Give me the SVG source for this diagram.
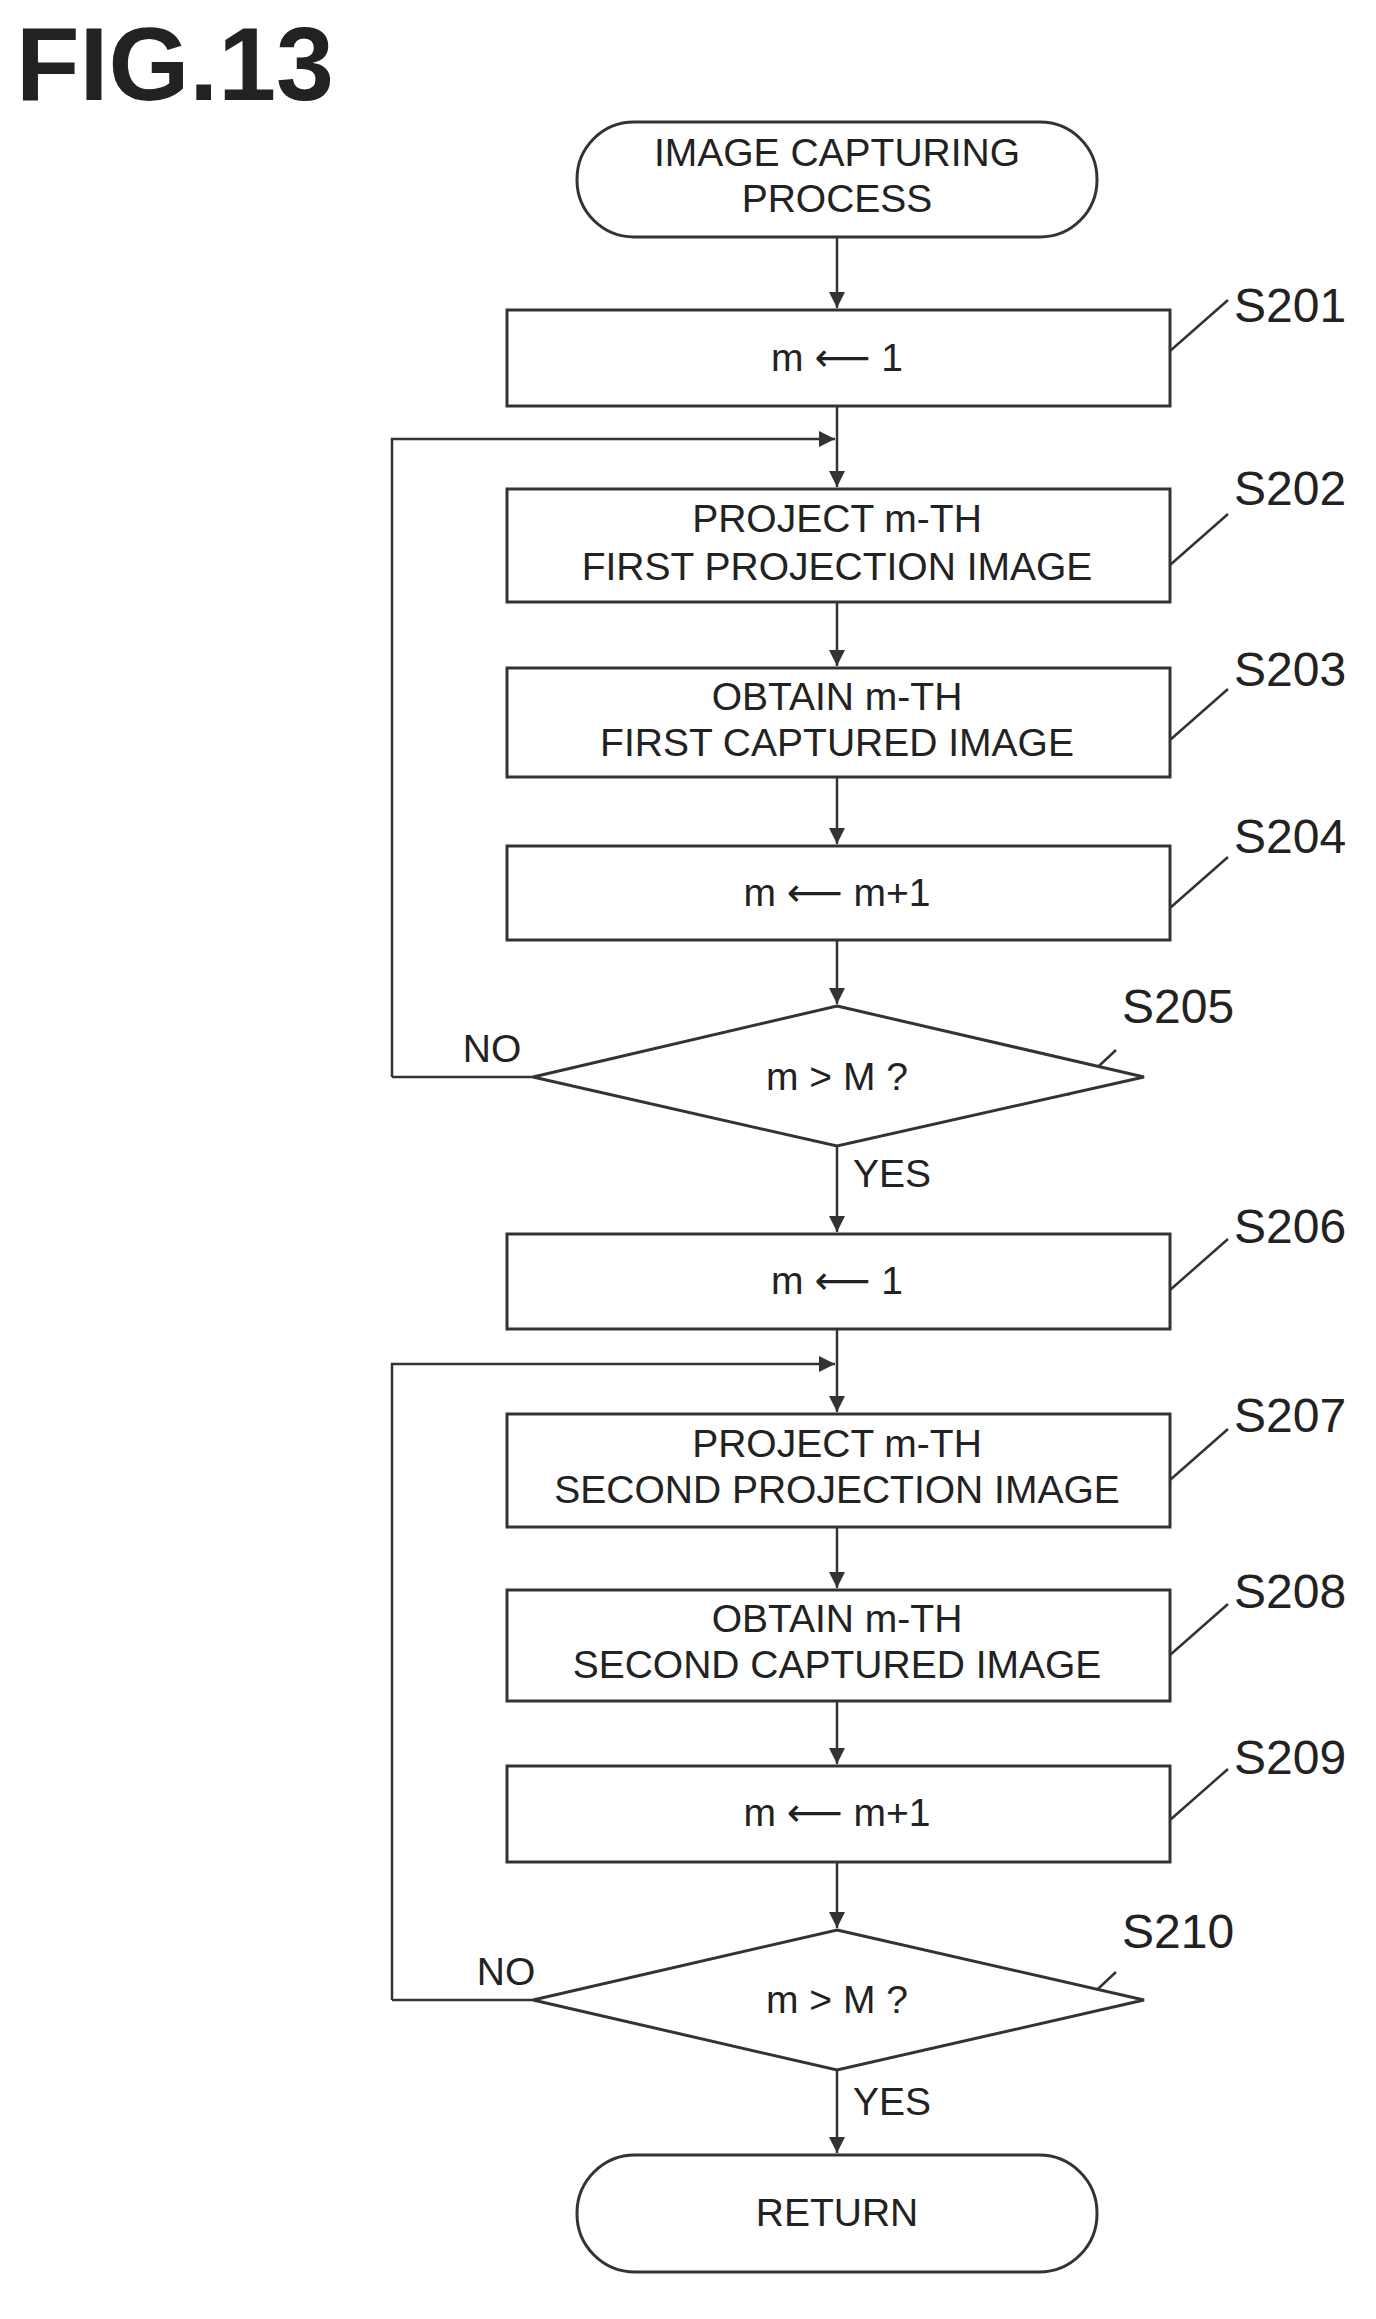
<svg xmlns="http://www.w3.org/2000/svg" width="1376" height="2319" viewBox="0 0 1376 2319">
<style>
.s{fill:#fff;stroke:#333;stroke-width:3}
.l{fill:none;stroke:#333;stroke-width:2.5}
.t{font-family:"Liberation Sans",Arial,sans-serif;font-size:39px;fill:#222;text-anchor:middle}
.ar{font-family:"DejaVu Sans",sans-serif}
.lb{font-family:"Liberation Sans",Arial,sans-serif;font-size:48px;fill:#222}
</style>
<defs><marker id="a" markerWidth="18" markerHeight="16" refX="16" refY="8" orient="auto" markerUnits="userSpaceOnUse"><path d="M0,0 L16,8 L0,16 Z" fill="#333"/></marker></defs>
<text x="16" y="100" style="font-family:'Liberation Sans',Arial,sans-serif;font-size:104px;font-weight:bold;fill:#222">FIG.13</text>
<g transform="translate(6,0)">
<g id="connectors">
<path class="l" d="M831,237 V308" marker-end="url(#a)"/>
<path class="l" d="M831,406 V487" marker-end="url(#a)"/>
<path class="l" d="M386,1077 H527 M386,1077 V439 H829" marker-end="url(#a)"/>
<path class="l" d="M831,602 V666" marker-end="url(#a)"/>
<path class="l" d="M831,777 V844" marker-end="url(#a)"/>
<path class="l" d="M831,940 V1004" marker-end="url(#a)"/>
<path class="l" d="M831,1146 V1232" marker-end="url(#a)"/>
<path class="l" d="M831,1329 V1412" marker-end="url(#a)"/>
<path class="l" d="M386,2000 H527 M386,2000 V1364 H829" marker-end="url(#a)"/>
<path class="l" d="M831,1527 V1588" marker-end="url(#a)"/>
<path class="l" d="M831,1701 V1764" marker-end="url(#a)"/>
<path class="l" d="M831,1862 V1928" marker-end="url(#a)"/>
<path class="l" d="M831,2070 V2153" marker-end="url(#a)"/>
<path class="l" d="M1164,351 L1222,300 M1164,565 L1222,514 M1164,740 L1222,689 M1164,908 L1222,857 M1062,1095 L1110,1050 M1164,1290 L1222,1239 M1164,1480 L1222,1429 M1164,1655 L1222,1604 M1164,1820 L1222,1769 M1062,2017 L1110,1972"/>
<text class="t" x="486" y="1062">NO</text>
<text class="t" x="886" y="1187">YES</text>
<text class="t" x="500" y="1985">NO</text>
<text class="t" x="886" y="2115">YES</text>
</g>
<g id="start"><rect class="s" x="571" y="122" width="520" height="115" rx="57"/><text class="t" x="831" y="166">IMAGE CAPTURING</text><text class="t" x="831" y="212">PROCESS</text></g>
<g id="S201"><rect class="s" x="501" y="310" width="663" height="96"/><text class="t" x="831" y="371">m <tspan class="ar">⟵</tspan> 1</text><text class="lb" x="1228" y="322">S201</text></g>
<g id="S202"><rect class="s" x="501" y="489" width="663" height="113"/><text class="t" x="831" y="532">PROJECT m-TH</text><text class="t" x="831" y="580">FIRST PROJECTION IMAGE</text><text class="lb" x="1228" y="505">S202</text></g>
<g id="S203"><rect class="s" x="501" y="668" width="663" height="109"/><text class="t" x="831" y="710">OBTAIN m-TH</text><text class="t" x="831" y="756">FIRST CAPTURED IMAGE</text><text class="lb" x="1228" y="686">S203</text></g>
<g id="S204"><rect class="s" x="501" y="846" width="663" height="94"/><text class="t" x="831" y="906">m <tspan class="ar">⟵</tspan> m+1</text><text class="lb" x="1228" y="853">S204</text></g>
<g id="S205"><polygon class="s" points="831,1006 1138,1077 831,1146 527,1077"/><text class="t" x="831" y="1090">m &gt; M ?</text><text class="lb" x="1116" y="1023">S205</text></g>
<g id="S206"><rect class="s" x="501" y="1234" width="663" height="95"/><text class="t" x="831" y="1294">m <tspan class="ar">⟵</tspan> 1</text><text class="lb" x="1228" y="1243">S206</text></g>
<g id="S207"><rect class="s" x="501" y="1414" width="663" height="113"/><text class="t" x="831" y="1457">PROJECT m-TH</text><text class="t" x="831" y="1503">SECOND PROJECTION IMAGE</text><text class="lb" x="1228" y="1432">S207</text></g>
<g id="S208"><rect class="s" x="501" y="1590" width="663" height="111"/><text class="t" x="831" y="1632">OBTAIN m-TH</text><text class="t" x="831" y="1678">SECOND CAPTURED IMAGE</text><text class="lb" x="1228" y="1608">S208</text></g>
<g id="S209"><rect class="s" x="501" y="1766" width="663" height="96"/><text class="t" x="831" y="1826">m <tspan class="ar">⟵</tspan> m+1</text><text class="lb" x="1228" y="1774">S209</text></g>
<g id="S210"><polygon class="s" points="831,1930 1138,2000 831,2070 527,2000"/><text class="t" x="831" y="2013">m &gt; M ?</text><text class="lb" x="1116" y="1948">S210</text></g>
<g id="end"><rect class="s" x="571" y="2155" width="520" height="117" rx="58"/><text class="t" x="831" y="2226">RETURN</text></g>
</g>
</svg>
